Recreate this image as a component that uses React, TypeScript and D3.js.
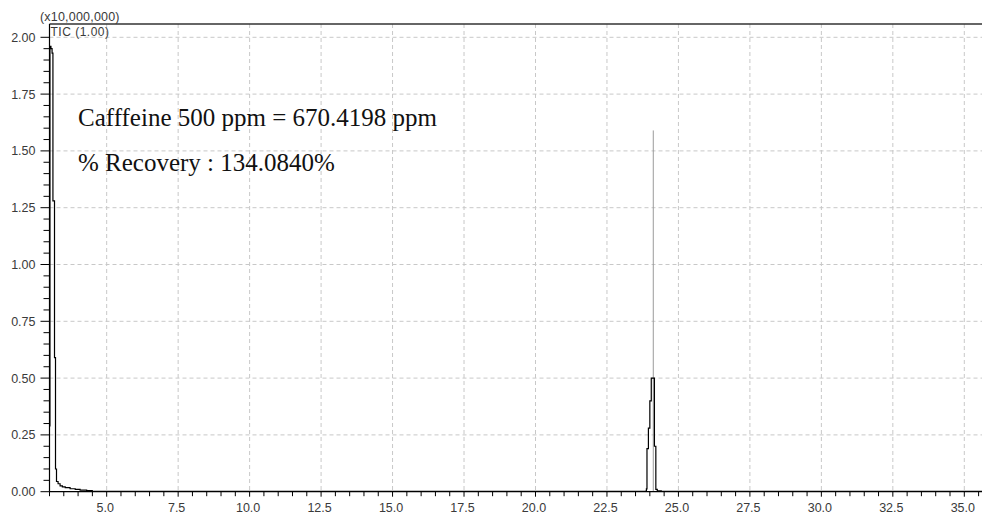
import React from "react";
import * as d3 from "d3";

const solventTimes = [3.0, 3.015, 3.05, 3.09, 3.12, 3.175, 3.21, 3.245, 3.3, 3.37, 3.45, 3.55, 3.72, 3.9, 4.07, 4.3, 4.49, 4.5, 23.84];
const solventValues = [0.29, 1.96, 1.95, 1.93, 1.28, 0.59, 0.10, 0.045, 0.035, 0.026, 0.021, 0.018, 0.013, 0.010, 0.007, 0.005, 0.004, 0.001, 0.001];
const peakTimes = [23.84, 23.88, 23.9, 23.95, 24.0, 24.05, 24.1, 24.16, 24.21, 24.26, 24.4, 35.7];
const peakValues = [0.003, 0.012, 0.19, 0.28, 0.4, 0.5, 0.5, 0.2, 0.01, 0.004, 0.002, 0.002];
const markerTime = 24.12;
const markerValue = 1.59;
const xTicks = [5.0, 7.5, 10.0, 12.5, 15.0, 17.5, 20.0, 22.5, 25.0, 27.5, 30.0, 32.5, 35.0];
const yTicks = [0.0, 0.25, 0.5, 0.75, 1.0, 1.25, 1.5, 1.75, 2.0];
const scaleLabel = "(x10,000,000)";
const traceLabel = "TIC (1.00)";
const annotations = ["Cafffeine 500 ppm = 670.4198 ppm", "% Recovery : 134.0840%"];

export default function App() {
  const W = 982, H = 516;
  const x = d3.scaleLinear().domain([3.0, 35.0]).range([49.5, 964.3]);
  const y = d3.scaleLinear().domain([0, 2.0]).range([491.7, 37.3]);
  const left = 49.5, top = 24, bottom = 491.7, right = W;

  const minorX = d3.range(3.0, 35.61, 0.5);
  const minorY = d3.range(0, 2.0001, 0.05);

  const line = d3.line<[number, number]>().x(d => x(d[0])).y(d => y(d[1])).curve(d3.curveStepAfter);
  const solvent = solventTimes.map((t, i) => [t, solventValues[i]] as [number, number]);
  const peak = peakTimes.map((t, i) => [t, peakValues[i]] as [number, number]);

  const tickFont = "Liberation Sans, Arial, sans-serif";
  const tickColor = "#3a3a3a";
  return (
    <svg width={W} height={H} style={{ position: "fixed", left: 0, top: 0, background: "#fff" }}>
      <rect width={W} height={H} fill="#fff" />
      {/* grid */}
      {xTicks.map(t => (
        <line key={"gx" + t} x1={x(t)} x2={x(t)} y1={top} y2={bottom} stroke="#c8c8c8" strokeDasharray="4,3" />
      ))}
      {yTicks.filter(t => t > 0).map(t => (
        <line key={"gy" + t} x1={left} x2={right} y1={y(t)} y2={y(t)} stroke="#c8c8c8" strokeDasharray="4,3" />
      ))}
      {/* annotations */}
      {annotations.map((a, i) => (
        <text key={a} x={78} y={126 + i * 45} fontFamily="Liberation Serif, Times New Roman, serif" fontSize={25} fill="#111">{a}</text>
      ))}
      {/* marker */}
      <line x1={x(markerTime)} x2={x(markerTime)} y1={y(0)} y2={y(markerValue)} stroke="#9a9a9a" strokeWidth={1} />
      {/* traces */}
      <path d={line(solvent) || ""} fill="none" stroke="#000" strokeWidth={1.2} />
      <path d={line(peak) || ""} fill="none" stroke="#000" strokeWidth={1.2} />
      {/* frame */}
      <line x1={left} x2={right} y1={top} y2={top} stroke="#333" strokeWidth={1.5} />
      <line x1={left} x2={left} y1={top} y2={bottom} stroke="#000" strokeWidth={1.2} />
      <line x1={left} x2={right} y1={bottom} y2={bottom} stroke="#000" strokeWidth={1.2} />
      {/* y ticks */}
      {minorY.map((t, i) => (
        <line key={"my" + i} x1={left - (i % 5 === 0 ? 9 : 6)} x2={left} y1={y(t)} y2={y(t)} stroke="#000" />
      ))}
      {yTicks.map(t => (
        <text key={"ly" + t} x={35.5} y={y(t)} dy="0.36em" textAnchor="end" fontFamily={tickFont} fontSize={12.5} fill={tickColor}>{t.toFixed(2)}</text>
      ))}
      {/* x ticks */}
      {minorX.map((t, i) => (
        <line key={"mx" + i} x1={x(t)} x2={x(t)} y1={bottom} y2={bottom + (i % 5 === 4 ? 5 : 4.5)} stroke="#000" />
      ))}
      {xTicks.map(t => (
        <text key={"lx" + t} x={x(t) - 1.5} y={512} textAnchor="middle" fontFamily={tickFont} fontSize={12.5} fill={tickColor}>{t.toFixed(1)}</text>
      ))}
      <text x={40} y={21.3} fontFamily={tickFont} fontSize={12.5} letterSpacing={0.2} fill={tickColor}>{scaleLabel}</text>
      <text x={50.5} y={35.5} fontFamily={tickFont} fontSize={12} letterSpacing={0.5} fill={tickColor}>{traceLabel}</text>
    </svg>
  );
}
